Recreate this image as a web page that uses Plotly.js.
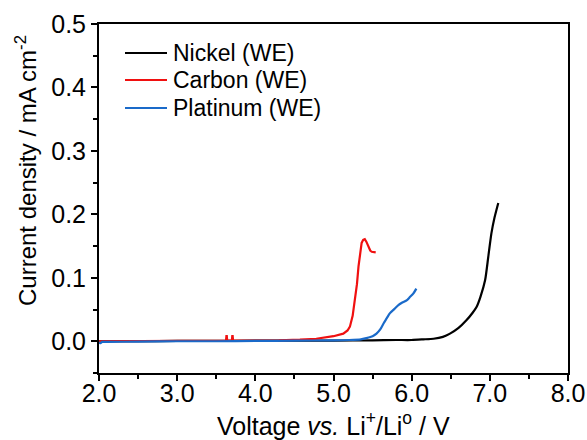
<!DOCTYPE html>
<html>
<head>
<meta charset="utf-8">
<script src="https://cdn.plot.ly/plotly-3.0.1.min.js"></script>
<style>html,body{margin:0;padding:0;background:#fff;}#chart{width:587px;height:440px;}</style>
</head>
<body>
<div id="chart"></div>
<script>
const nickelX = [2.0, 2.5, 3.0, 3.5, 4.0, 4.5, 5.0, 5.5, 5.8, 6.0, 6.15, 6.28, 6.4, 6.49, 6.6, 6.70, 6.78, 6.83, 6.88, 6.94, 6.98, 7.02, 7.06, 7.108];
const nickelY = [0, 0, 0.0005, 0.0005, 0.001, 0.001, 0.001, 0.0015, 0.002, 0.002, 0.003, 0.004, 0.007, 0.012, 0.021, 0.033, 0.045, 0.054, 0.07, 0.0965, 0.133, 0.17, 0.195, 0.218];

const carbonX = [2.0, 2.5, 3.0, 3.5, 3.625, 3.63, 3.635, 3.64, 3.70, 3.705, 3.71, 3.715, 4.0, 4.3, 4.57, 4.78, 5.0, 5.125, 5.18, 5.21, 5.245, 5.275, 5.3, 5.32, 5.34, 5.36, 5.38, 5.40, 5.42, 5.445, 5.47, 5.49, 5.54];
const carbonY = [0, 0, 0.0005, 0.001, 0.001, 0.008, 0.008, 0.001, 0.001, 0.008, 0.008, 0.001, 0.001, 0.0015, 0.0025, 0.004, 0.008, 0.012, 0.017, 0.023, 0.04, 0.065, 0.09, 0.118, 0.14, 0.155, 0.16, 0.161, 0.157, 0.149, 0.143, 0.141, 0.14];

const platinumX = [2.0, 2.02, 2.04, 2.1, 2.5, 3.0, 3.5, 4.0, 4.5, 5.0, 5.2, 5.35, 5.42, 5.5, 5.55, 5.6, 5.64, 5.68, 5.72, 5.78, 5.83, 5.88, 5.94, 5.98, 6.02, 6.06];
const platinumY = [-0.002, -0.003, -0.001, -0.001, -0.0005, 0, 0, 0.0005, 0.001, 0.0015, 0.002, 0.003, 0.005, 0.008, 0.012, 0.019, 0.028, 0.036, 0.044, 0.051, 0.057, 0.061, 0.065, 0.07, 0.075, 0.083];

const seriesNames = ['Nickel (WE)', 'Carbon (WE)', 'Platinum (WE)'];
const seriesColors = ['#000000', '#f01010', '#1a6ac9'];
const xTickVals = [2, 3, 4, 5, 6, 7, 8];
const yTickVals = [0, 0.1, 0.2, 0.3, 0.4, 0.5];
const xTitle = 'Voltage <i>vs.</i> Li<sup>+</sup>/Li<sup>o</sup> / V';
const yTitle = 'Current density / mA cm<sup>-2</sup>';

const font = 'Liberation Sans, Arial, sans-serif';

const traces = [
  {x: nickelX, y: nickelY, name: seriesNames[0], mode: 'lines', line: {color: seriesColors[0], width: 2.2, shape: 'spline', smoothing: 0.6}},
  {x: carbonX, y: carbonY, name: seriesNames[1], mode: 'lines', line: {color: seriesColors[1], width: 2.2}},
  {x: platinumX, y: platinumY, name: seriesNames[2], mode: 'lines', line: {color: seriesColors[2], width: 2.2, shape: 'spline', smoothing: 0.6}}
];

const axisCommon = {
  showline: true, linecolor: '#000', linewidth: 2, mirror: true,
  ticks: 'outside', ticklen: 6, tickwidth: 2, tickcolor: '#000',
  showgrid: false, zeroline: false,
  tickfont: {family: font, size: 25, color: '#000'},
  tickformat: '.1f'
};

const plotL = 99, plotR = 568, plotT = 24, plotB = 373;
const px2x = p => (p - plotL) / (plotR - plotL);
const px2y = p => (plotB - p) / (plotB - plotT);
const legendRows = [53, 80, 108];
const shapes = [];
const annotations = [];
seriesNames.forEach((n, i) => {
  shapes.push({type: 'line', xref: 'paper', yref: 'paper', x0: px2x(125), x1: px2x(167), y0: px2y(legendRows[i]), y1: px2y(legendRows[i]),
               line: {color: seriesColors[i], width: 2.2}});
  annotations.push({xref: 'paper', yref: 'paper', x: px2x(171), y: px2y(legendRows[i]), xanchor: 'left', yanchor: 'middle',
                    text: n, showarrow: false, font: {family: font, size: 23, color: '#000'}});
});
annotations.push({xref: 'paper', yref: 'paper', x: px2x(26), y: px2y(171), xanchor: 'center', yanchor: 'middle', textangle: -90,
                  text: yTitle, showarrow: false, font: {family: font, size: 24, color: '#000'}});
annotations.push({xref: 'paper', yref: 'paper', x: px2x(333), y: px2y(442), xanchor: 'center', yanchor: 'bottom',
                  text: xTitle, showarrow: false, font: {family: font, size: 25, color: '#000'}});

const layout = {
  width: 587, height: 440,
  margin: {l: 99, r: 19, t: 24, b: 67},
  paper_bgcolor: '#fff', plot_bgcolor: '#fff',
  showlegend: false,
  shapes: shapes,
  annotations: annotations,
  xaxis: Object.assign({}, axisCommon, {
    range: [2, 8], tickvals: xTickVals, ticklabelstandoff: -9,
    minor: {dtick: 0.5, ticks: 'outside', ticklen: 4, tickwidth: 2, tickcolor: '#000'}
  }),
  yaxis: Object.assign({}, axisCommon, {
    range: [-0.05, 0.5], tickvals: yTickVals,
    minor: {dtick: 0.05, tick0: 0, ticks: 'outside', ticklen: 4, tickwidth: 2, tickcolor: '#000'}
  })
};

Plotly.newPlot('chart', traces, layout, {displayModeBar: false, staticPlot: true});
</script>
</body>
</html>
